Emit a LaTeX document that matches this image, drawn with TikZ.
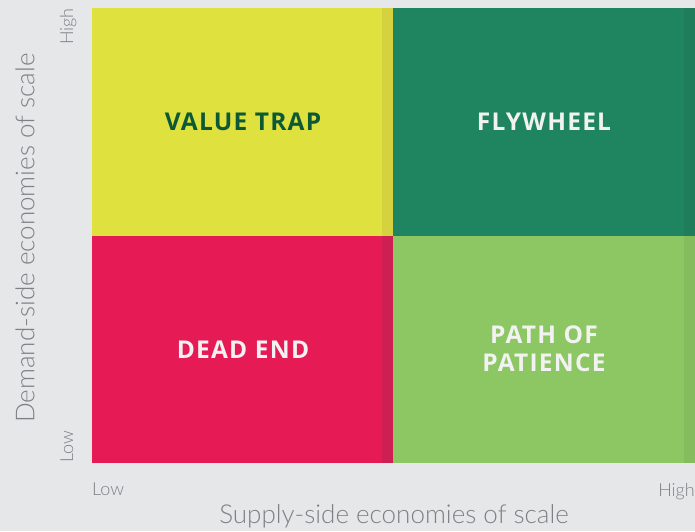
\documentclass[tikz,border=0pt]{standalone}
\usepackage{fontspec}
\setmainfont{Open Sans}
\newfontfamily\quadfont[LetterSpace=5]{Open Sans}
\newfontfamily\axisfont[UprightFont={* Light}]{Lato}
\definecolor{canvas}{HTML}{E6E7E9}
\definecolor{trapfill}{HTML}{DFE23E}
\definecolor{trapedge}{HTML}{D4D33F}
\definecolor{wheelfill}{HTML}{1E8560}
\definecolor{wheeledge}{HTML}{1F7D5B}
\definecolor{deadfill}{HTML}{E61A55}
\definecolor{deadedge}{HTML}{CC1F52}
\definecolor{pathfill}{HTML}{8CC763}
\definecolor{pathedge}{HTML}{85BC5E}
\definecolor{traptext}{HTML}{0B5A35}
\definecolor{axisgray}{HTML}{7F8083}
\tikzset{
  quadlabel/.style={font=\quadfont\bfseries\fontsize{24.5}{28}\selectfont, align=center, text=white!95!black},
  axistitle/.style={font=\axisfont\fontsize{26}{28}\selectfont, text=axisgray},
  ticklabel/.style={font=\axisfont\fontsize{18}{20}\selectfont, text=axisgray}
}
\begin{document}
\begin{tikzpicture}[x=1pt,y=1pt]
		% canvas
		\fill [canvas] (0,0) rectangle (695,531);
		\useasboundingbox (0,0) rectangle (695,531);

		% quadrants
		\fill [trapfill] (92,295) rectangle (393,523);
		\fill [trapedge] (382,295) rectangle (393,523);
		\fill [wheelfill] (393,295) rectangle (695,523);
		\fill [wheeledge] (684,295) rectangle (695,523);
		\fill [deadfill] (92,68) rectangle (393,295);
		\fill [deadedge] (382,68) rectangle (393,295);
		\fill [pathfill] (393,68) rectangle (695,295);
		\fill [pathedge] (684,68) rectangle (695,295);

		% quadrant names
		\node [quadlabel, text=traptext] (trap) at (243,409) {VALUE TRAP};
		\node [quadlabel] (wheel) at (544,409) {FLYWHEEL};
		\node [quadlabel] (dead) at (243,181) {DEAD END};
		\node [quadlabel] (patience) at (544,182) {PATH OF\\PATIENCE};

		% axes
		\node [axistitle, rotate=90] (demand) at (25,293) {Demand-side economies of scale};
		\node [axistitle] (supply) at (394,15) {Supply-side economies of scale};
		\node [ticklabel, anchor=base west, inner sep=0pt] (xlow) at (92,36) {Low};
		\node [ticklabel, anchor=base east, inner sep=0pt] (xhigh) at (695,35) {High};
		\node [ticklabel, rotate=90, anchor=base west, inner sep=0pt] (ylow) at (73,68) {Low};
		\node [ticklabel, rotate=90, anchor=base east, inner sep=0pt] (yhigh) at (73,523) {High};
\end{tikzpicture}
\end{document}
